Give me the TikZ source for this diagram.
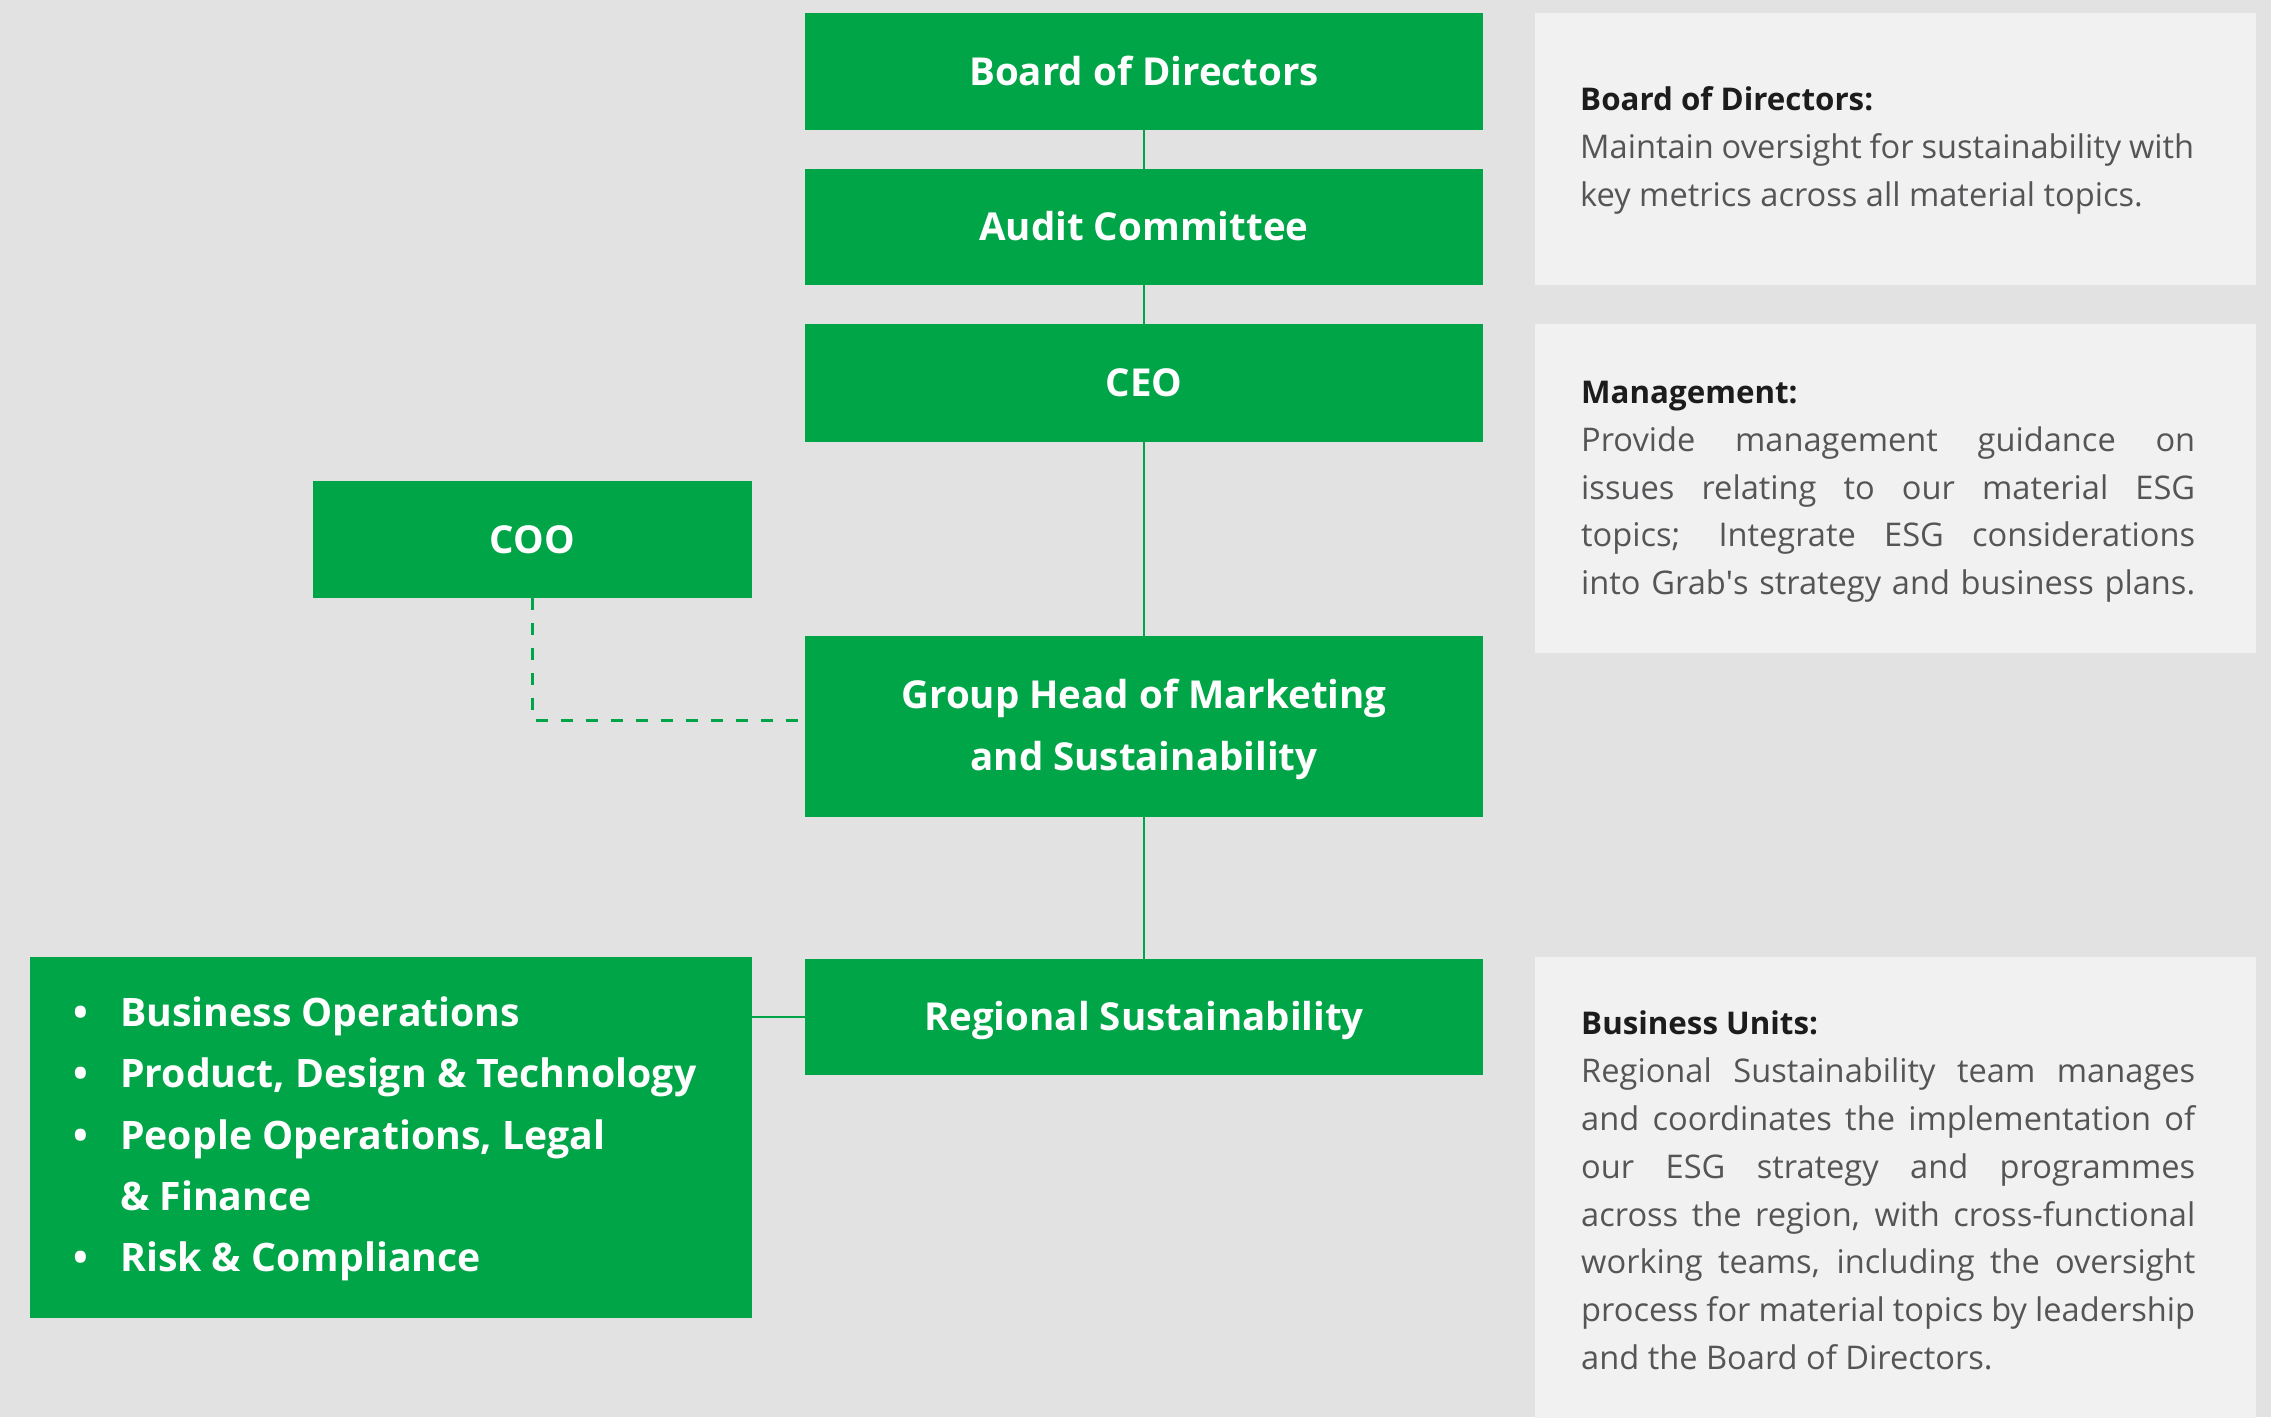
\documentclass[tikz,border=0pt]{standalone}
\usepackage{fontspec}
\setmainfont{Open Sans}
\definecolor{grabgreen}{RGB}{0,165,72}
\definecolor{bgcol}{RGB}{226,226,226}
\definecolor{panelcol}{RGB}{241,241,241}
\definecolor{titlecol}{RGB}{28,28,28}
\definecolor{bodycol}{RGB}{85,85,87}
\tikzset{
  gbox/.style={fill=grabgreen, draw=none, inner sep=0pt, text=white,
    font=\bfseries\fontsize{38.5}{62}\selectfont, text height=27.7pt, text depth=0pt},
  panel/.style={fill=panelcol, draw=none, inner sep=0pt},
  ptitle/.style={anchor=base west, inner sep=0pt, text=titlecol, font=\bfseries\fontsize{31.3}{40}\selectfont},
  pbody/.style={anchor=base west, inner sep=0pt, text=bodycol, font=\fontsize{32.6}{40}\selectfont},
  btext/.style={anchor=base west, inner sep=0pt, text=white, font=\bfseries\fontsize{39.2}{62}\selectfont},
  link/.style={draw=grabgreen, line width=2.5pt},
  dlink/.style={draw=grabgreen, line width=3pt, dash pattern=on 12pt off 13pt}
}
\newcommand{\jl}[1]{\makebox[614pt][s]{#1}}
\begin{document}
\begin{tikzpicture}[x=1pt,y=-1pt]
\useasboundingbox (0,0) rectangle (2271,1417);
\fill[bgcol] (0,0) rectangle (2271,1417);

% right panels
\node[panel, minimum width=721pt, minimum height=272pt] (pbod) at (1895.5,149) {};
\node[panel, minimum width=721pt, minimum height=329pt] (pman) at (1895.5,488.5) {};
\node[panel, minimum width=721pt, minimum height=480pt] (pbu) at (1895.5,1197) {};

% green boxes
\node[gbox, minimum width=678pt, minimum height=117pt] (bod) at (1144,71.5) {Board of Directors};
\node[gbox, minimum width=678pt, minimum height=116pt] (aud) at (1144,227) {Audit Committee};
\node[gbox, minimum width=678pt, minimum height=118pt] (ceo) at (1144,383) {CEO};
\node[gbox, minimum width=439pt, minimum height=117pt] (coo) at (532.5,539.5) {COO};
\node[fill=grabgreen, inner sep=0pt, minimum width=678pt, minimum height=181pt] (grp) at (1144,726.5) {};
\node[anchor=base, inner sep=0pt, text=white, font=\bfseries\fontsize{38.5}{62}\selectfont] (grpa) at (1144,708) {Group Head of Marketing};
\node[anchor=base, inner sep=0pt, text=white, font=\bfseries\fontsize{38.5}{62}\selectfont] (grpb) at (1144,770) {and Sustainability};
\node[gbox, minimum width=678pt, minimum height=116pt] (reg) at (1144,1017) {Regional Sustainability};
\node[fill=grabgreen, inner sep=0pt, minimum width=722pt, minimum height=361pt] (bul) at (391,1137.5) {};

% bullet list
\node[btext] (b1d) at (73,1026) {•};
\node[btext] (b1) at (120,1026) {Business Operations};
\node[btext] (b2d) at (73,1087) {•};
\node[btext] (b2) at (120,1087) {Product, Design \& Technology};
\node[btext] (b3d) at (73,1149) {•};
\node[btext] (b3) at (120,1149) {People Operations, Legal};
\node[btext] (b3b) at (120,1210) {\& Finance};
\node[btext] (b4d) at (73,1271) {•};
\node[btext] (b4) at (120,1271) {Risk \& Compliance};

% connectors
\draw[link] (bod.south) -- (aud.north);
\draw[link] (aud.south) -- (ceo.north);
\draw[link] (ceo.south) -- (grp.north);
\draw[link] (grp.south) -- (reg.north);
\draw[link] (reg.west) -- (reg.west -| bul.east);
\draw[dlink] (coo.south) |- ([yshift=6.5pt]grp.west);

% panel texts
\node[ptitle] (t1) at (1580,110.5) {Board of Directors:};
\node[pbody] (t1a) at (1580,158.5) {\jl{Maintain oversight for sustainability with}};
\node[pbody] (t1b) at (1580,206.5) {key metrics across all material topics.};

\node[ptitle] (t2) at (1581,403.5) {Management:};
\node[pbody] (t2a) at (1581,451.5) {\jl{Provide management guidance on}};
\node[pbody] (t2b) at (1581,499.5) {\jl{issues relating to our material ESG}};
\node[pbody] (t2c) at (1581,546.5) {\jl{topics; Integrate ESG considerations}};
\node[pbody] (t2d) at (1581,594.5) {\jl{into Grab\textquotesingle s strategy and business plans.}};

\node[ptitle] (t3) at (1581,1034.5) {Business Units:};
\node[pbody] (t3a) at (1581,1082.5) {\jl{Regional Sustainability team manages}};
\node[pbody] (t3b) at (1581,1130.5) {\jl{and coordinates the implementation of}};
\node[pbody] (t3c) at (1581,1178.5) {\jl{our ESG strategy and programmes}};
\node[pbody] (t3d) at (1581,1226.5) {\jl{across the region, with cross-functional}};
\node[pbody] (t3e) at (1581,1273.5) {\jl{working teams, including the oversight}};
\node[pbody] (t3f) at (1581,1321.5) {\jl{process for material topics by leadership}};
\node[pbody] (t3g) at (1581,1369.5) {and the Board of Directors.};
\end{tikzpicture}
\end{document}
